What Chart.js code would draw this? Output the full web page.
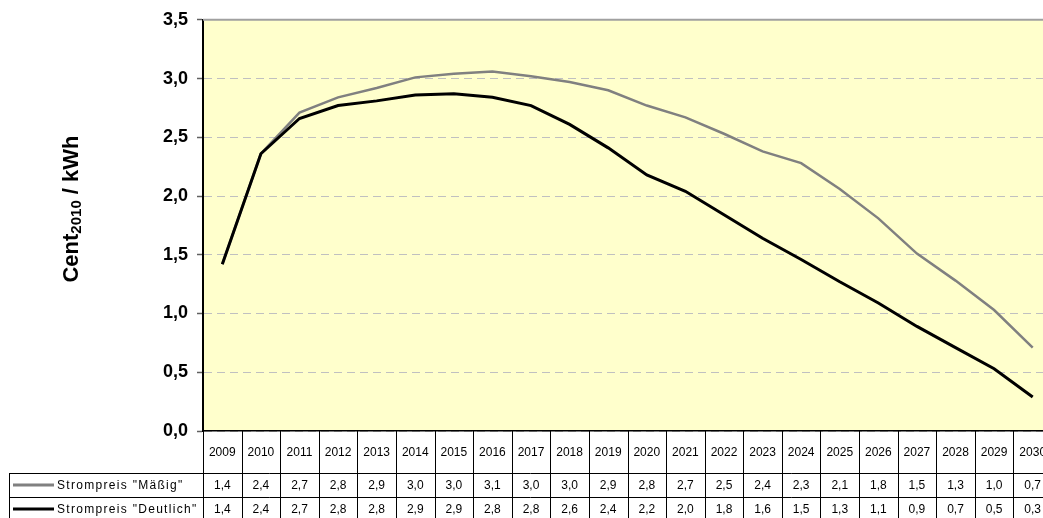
<!DOCTYPE html>
<html>
<head>
<meta charset="utf-8">
<script src="https://cdn.jsdelivr.net/npm/chart.js@4.4.1/dist/chart.umd.min.js"></script>
<style>
html,body{margin:0;padding:0;overflow:hidden;background:#fff;width:1043px;height:518px}
#wrap{position:absolute;left:0;top:0;width:1062px;height:518px}
</style>
</head>
<body>
<div id="wrap"><canvas id="c" width="1062" height="518"></canvas></div>
<script>
// ---- data ----
const years = ['2009','2010','2011','2012','2013','2014','2015','2016','2017','2018','2019','2020','2021','2022','2023','2024','2025','2026','2027','2028','2029','2030'];
const seriesNames = ['Strompreis "Mäßig"', 'Strompreis "Deutlich"'];
const valuesMaessig = [1.42,2.36,2.71,2.84,2.92,3.01,3.04,3.06,3.02,2.97,2.90,2.77,2.67,2.53,2.38,2.28,2.06,1.81,1.51,1.28,1.03,0.71];
const valuesDeutlich = [1.42,2.36,2.66,2.77,2.81,2.86,2.87,2.84,2.77,2.61,2.41,2.18,2.04,1.84,1.64,1.46,1.27,1.09,0.89,0.71,0.53,0.29];
const tableMaessig = ['1,4','2,4','2,7','2,8','2,9','3,0','3,0','3,1','3,0','3,0','2,9','2,8','2,7','2,5','2,4','2,3','2,1','1,8','1,5','1,3','1,0','0,7'];
const tableDeutlich = ['1,4','2,4','2,7','2,8','2,8','2,9','2,9','2,8','2,8','2,6','2,4','2,2','2,0','1,8','1,6','1,5','1,3','1,1','0,9','0,7','0,5','0,3'];
const yMin = 0, yMax = 3.5, yStep = 0.5;
const yTitleMain = 'Cent', yTitleSub = '2010', yTitleRest = ' / kWh';

const FONT = '"Liberation Sans", Arial, sans-serif';
const colors = ['#808080', '#000000'];

const bgPlugin = {
  id: 'bg',
  beforeDraw(chart) {
    const {ctx, chartArea: a} = chart;
    ctx.save();
    ctx.fillStyle = '#FFFFCC';
    ctx.fillRect(a.left, a.top, a.right - a.left, a.bottom - a.top);
    ctx.restore();
  },
  afterDraw(chart) {
    const {ctx, chartArea: a} = chart;
    ctx.save();
    ctx.strokeStyle = '#A0A0A0';
    ctx.lineWidth = 2;
    ctx.beginPath();
    ctx.moveTo(a.left, a.top);
    ctx.lineTo(a.right, a.top);
    ctx.stroke();
    ctx.restore();
  }
};

const tablePlugin = {
  id: 'dataTable',
  afterDraw(chart) {
    const {ctx} = chart;
    const xs = chart.scales.x;
    const n = years.length;
    const left = xs.left, right = xs.right;
    const colW = (right - left) / n;
    const top = chart.chartArea.bottom;
    const r1 = top + 42, r2 = r1 + 24, r3 = r2 + 24;
    const legLeft = 9;
    ctx.save();
    ctx.strokeStyle = '#000';
    ctx.lineWidth = 1;
    ctx.beginPath();
    [r1, r2, r3].forEach(y => {
      ctx.moveTo(legLeft, Math.round(y) + 0.5);
      ctx.lineTo(right, Math.round(y) + 0.5);
    });
    for (let i = 0; i <= n; i++) {
      const x = Math.round(left + i * colW) + 0.5;
      ctx.moveTo(x, top);
      ctx.lineTo(x, r3);
    }
    ctx.moveTo(legLeft + 0.5, r1);
    ctx.lineTo(legLeft + 0.5, r3);
    ctx.stroke();

    ctx.fillStyle = '#000';
    ctx.textAlign = 'center';
    ctx.textBaseline = 'middle';
    ctx.font = '12px ' + FONT;
    for (let i = 0; i < n; i++) {
      const cx = xs.getPixelForValue(i);
      ctx.fillText(years[i], cx, (top + r1) / 2 + 1);
      ctx.fillText(tableMaessig[i], cx, (r1 + r2) / 2 + 1);
      ctx.fillText(tableDeutlich[i], cx, (r2 + r3) / 2 + 1);
    }
    const rows = [(r1 + r2) / 2, (r2 + r3) / 2];
    rows.forEach((y, k) => {
      ctx.strokeStyle = colors[k];
      ctx.lineWidth = 3;
      ctx.beginPath();
      ctx.moveTo(13, y);
      ctx.lineTo(54, y);
      ctx.stroke();
      ctx.textAlign = 'left';
      ctx.fillStyle = '#000';
      try { ctx.letterSpacing = '1.3px'; } catch (e) {}
      ctx.fillText(seriesNames[k], 57, y + 1);
      try { ctx.letterSpacing = '0px'; } catch (e) {}
    });
    ctx.restore();
  }
};

const yTitlePlugin = {
  id: 'yTitle',
  afterDraw(chart) {
    const {ctx} = chart;
    ctx.save();
    ctx.translate(78, 209);
    ctx.rotate(-Math.PI / 2);
    ctx.fillStyle = '#000';
    ctx.textBaseline = 'alphabetic';
    ctx.textAlign = 'left';
    const fMain = 'bold 22px ' + FONT, fSub = 'bold 15px ' + FONT;
    ctx.font = fMain; const w1 = ctx.measureText(yTitleMain).width; const w3 = ctx.measureText(yTitleRest).width;
    ctx.font = fSub; const w2 = ctx.measureText(yTitleSub).width;
    let x = -(w1 + w2 + w3) / 2;
    ctx.font = fMain; ctx.fillText(yTitleMain, x, 0); x += w1;
    ctx.font = fSub; ctx.fillText(yTitleSub, x, 3); x += w2;
    ctx.font = fMain; ctx.fillText(yTitleRest, x, 0);
    ctx.restore();
  }
};

new Chart(document.getElementById('c'), {
  type: 'line',
  data: {
    labels: years,
    datasets: [
      { label: seriesNames[0], data: valuesMaessig, borderColor: colors[0], borderWidth: 2.5, pointRadius: 0, tension: 0, fill: false, order: 2 },
      { label: seriesNames[1], data: valuesDeutlich, borderColor: colors[1], borderWidth: 3, pointRadius: 0, tension: 0, fill: false, order: 1 }
    ]
  },
  options: {
    responsive: false,
    animation: false,
    events: [],
    layout: { padding: { top: 19, right: 10, bottom: 87, left: 0 } },
    plugins: { legend: { display: false }, tooltip: { enabled: false }, title: { display: false } },
    scales: {
      x: {
        type: 'category',
        offset: true,
        ticks: { display: false },
        grid: { display: false, drawTicks: false },
        border: { display: true, color: '#000', width: 1.5 }
      },
      y: {
        min: yMin, max: yMax,
        afterFit(scale) { scale.width = 203; },
        ticks: {
          stepSize: yStep,
          color: '#000',
          padding: 9,
          font: { family: FONT, size: 18, weight: 'bold' },
          callback: v => v.toFixed(1).replace('.', ',')
        },
        grid: { color: '#C0C0C0', lineWidth: 1, tickLength: 6, tickColor: '#606060', tickWidth: 1.5 },
        border: { display: true, color: '#000', width: 2, dash: [8, 5] }
      }
    }
  },
  plugins: [bgPlugin, tablePlugin, yTitlePlugin]
});
</script>
</body>
</html>
